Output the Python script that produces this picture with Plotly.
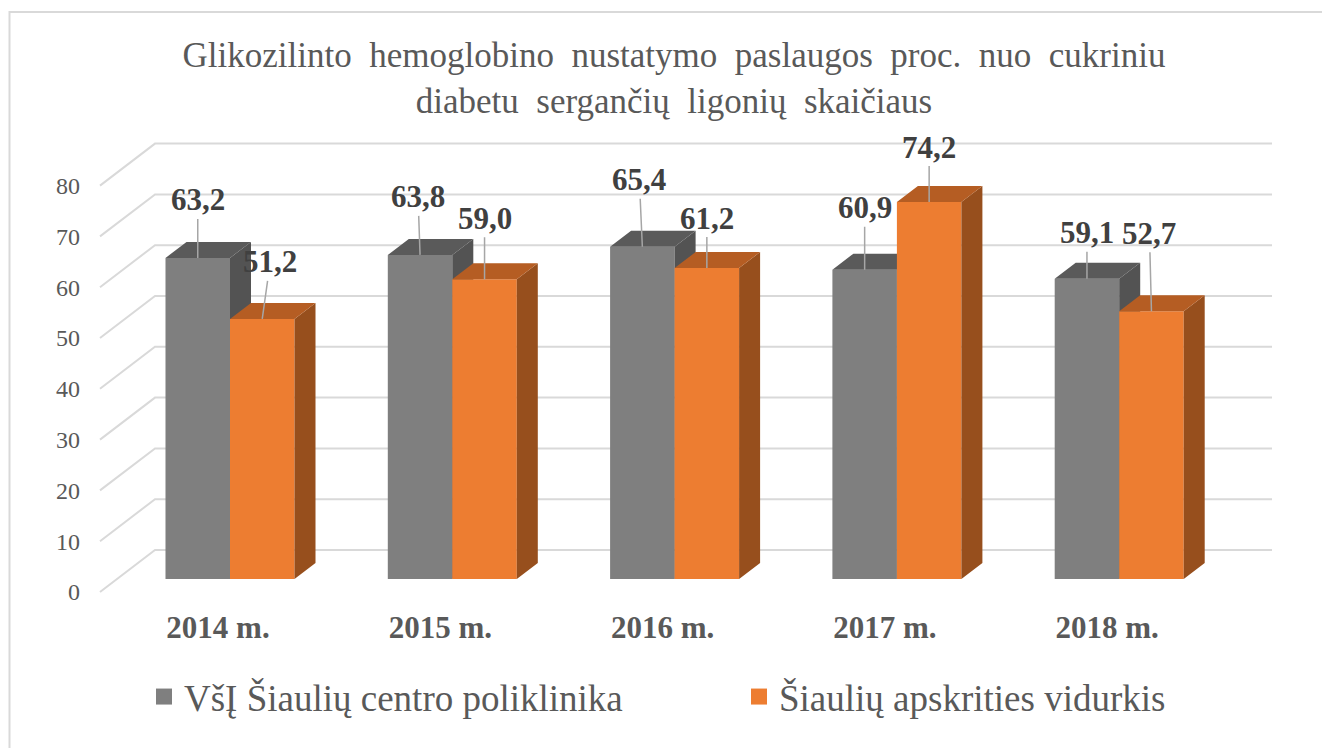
import plotly.graph_objects as go

# ---------------- data ----------------
categories = ["2014 m.", "2015 m.", "2016 m.", "2017 m.", "2018 m."]
clinic = [63.2, 63.8, 65.4, 60.9, 59.1]
county = [51.2, 59.0, 61.2, 74.2, 52.7]
series_names = ["VšĮ Šiaulių centro poliklinika", "Šiaulių apskrities vidurkis"]
y_ticks = [0, 10, 20, 30, 40, 50, 60, 70, 80]
title_text = ("Glikozilinto  hemoglobino  nustatymo  paslaugos  proc.  nuo  cukriniu"
              "<br>diabetu  sergančių  ligonių  skaičiaus")

# ---------------- styling / geometry (screen pixels) ----------------
PAGE_OFF = 8                 # default body margin of the page
W, H = 1330 - PAGE_OFF, 748 - PAGE_OFF
CAT_PX = 222.3               # pixels per category
FIRST_CAT_PX = 230           # screen x of first category centre (front plane)
UNIT_PX = 5.08               # pixels per value unit
ZERO_PX = 579                # screen y of value 0 on bar front plane
PLOT_L, PLOT_R, PLOT_T, PLOT_B = 84, 1286, 120, 606   # screen px
BAR_W_PX = 64.5
DEPTH_DX, DEPTH_DY = 21, 16
FLOOR_FRONT_DX, FLOOR_FRONT_DY = -17, 13
CAT_LABEL_DX = -12
WALL_BACK_DX, WALL_BACK_DY = 38, -29
WALL_LEFT_FRONT_PX = 100
WALL_RIGHT_PX = 1272

gray_cols = dict(front="#7f7f7f", top="#5a5a5a", side="#535353")
orange_cols = dict(front="#ed7d31", top="#b55d23", side="#974f1d")
text_col = "#595959"
label_col = "#404040"
grid_col = "#d9d9d9"
FONT = "Liberation Serif"

label_offsets = [
    [(0, 58), (8, 57)],
    [(-2, 58), (0, 61)],
    [(-3, 67), (0, 50)],
    [(0, 62), (0, 55)],
    [(0, 46), (-2, 78)],
]
legend_x_px = [144, 739]
legend_y_px = 697
title_center_px = 67

# ---------------- derived conversions ----------------
cx = lambda px: px / CAT_PX
cy = lambda px: px / UNIT_PX
px2paper_x = lambda px: (px - PLOT_L) / (PLOT_R - PLOT_L)
px2paper_y = lambda py: (PLOT_B - py) / (PLOT_B - PLOT_T)
xrange = [cx(PLOT_L - FIRST_CAT_PX), cx(PLOT_R - FIRST_CAT_PX)]
yrange = [cy(ZERO_PX - PLOT_B), cy(ZERO_PX - PLOT_T)]
bw = cx(BAR_W_PX)
ddx, ddy = cx(DEPTH_DX), cy(DEPTH_DY)
n = len(categories)
xpos = list(range(n))

fig = go.Figure()

# ---------- back wall + left wall grid lines ----------
x_front_left = cx(WALL_LEFT_FRONT_PX - FIRST_CAT_PX)
x_back_left = x_front_left + cx(WALL_BACK_DX - FLOOR_FRONT_DX)
x_back_right = cx(WALL_RIGHT_PX - FIRST_CAT_PX)
gx, gy = [], []
for v in y_ticks:
    yf = v - cy(FLOOR_FRONT_DY)
    yb = v - cy(WALL_BACK_DY)
    gx += [x_front_left, x_back_left, x_back_right, None]
    gy += [yf, yb, yb, None]
fig.add_trace(go.Scatter(x=gx, y=gy, mode="lines", line=dict(color=grid_col, width=2),
                         hoverinfo="skip", showlegend=False, xaxis="x", yaxis="y"))

for k, (name, col) in enumerate(zip(series_names, [gray_cols["front"], orange_cols["front"]])):
    fig.add_trace(go.Scatter(x=[None], y=[None], mode="markers", name=name,
                             marker=dict(symbol="square", size=18, color=col),
                             legend="legend" if k == 0 else "legend2",
                             xaxis="x", yaxis="y"))


def faces(values, offset):
    tx, ty, sx, sy = [], [], [], []
    for i, v in zip(xpos, values):
        x0 = i + offset
        x1 = x0 + bw
        tx += [x0, x1, x1 + ddx, x0 + ddx, x0, None]
        ty += [v, v, v + ddy, v + ddy, v, None]
        sx += [x1, x1, x1 + ddx, x1 + ddx, x1, None]
        sy += [0, v, v + ddy, ddy, 0, None]
    return tx, ty, sx, sy


for k, (vals, cols, offset, ax_suffix) in enumerate([
        (clinic, gray_cols, -bw, "2"), (county, orange_cols, 0.0, "3")]):
    xa, ya = "x" + ax_suffix, "y" + ax_suffix
    fig.add_trace(go.Bar(x=xpos, y=vals, width=bw, offset=offset,
                         marker=dict(color=cols["front"], line=dict(width=0)),
                         name=series_names[k], showlegend=False,
                         xaxis=xa, yaxis=ya))
    tx, ty, sx, sy = faces(vals, offset)
    fig.add_trace(go.Scatter(x=sx, y=sy, mode="lines", fill="toself",
                             fillcolor=cols["side"], line=dict(width=0, color=cols["side"]),
                             hoverinfo="skip", showlegend=False, xaxis=xa, yaxis=ya))
    fig.add_trace(go.Scatter(x=tx, y=ty, mode="lines", fill="toself",
                             fillcolor=cols["top"], line=dict(width=0, color=cols["top"]),
                             hoverinfo="skip", showlegend=False, xaxis=xa, yaxis=ya))

# ---------- data labels ----------
annotations = []
for s, (vals, offset) in enumerate([(clinic, -bw), (county, 0.0)]):
    for i, v in enumerate(vals):
        dx, dy = label_offsets[i][s]
        annotations.append(dict(
            x=i + offset + bw / 2, y=v, xref="x", yref="y",
            text="<b>" + f"{v:.1f}".replace(".", ",") + "</b>",
            showarrow=True, arrowhead=0, arrowwidth=1.5, arrowcolor="#a6a6a6",
            ax=dx, ay=-dy, standoff=0,
            font=dict(family=FONT, size=31, color=label_col)))

legend_common = dict(orientation="h", xanchor="left", yanchor="middle",
                     font=dict(family=FONT, size=37, color=text_col),
                     bgcolor="rgba(0,0,0,0)")

axis_common = dict(showgrid=False, zeroline=False, showline=False, fixedrange=True)
fig.update_layout(
    width=W, height=H,
    font=dict(family=FONT, color=text_col),
    margin=dict(l=PLOT_L - PAGE_OFF, r=W + PAGE_OFF - PLOT_R, t=PLOT_T - PAGE_OFF,
                b=H + PAGE_OFF - PLOT_B, pad=0, autoexpand=False),
    paper_bgcolor="white", plot_bgcolor="rgba(0,0,0,0)",
    title=dict(text=title_text, x=(674 - PAGE_OFF) / W, xanchor="center", xref="container",
               y=1 - (title_center_px - PAGE_OFF) / H, yanchor="middle", yref="container",
               font=dict(family=FONT, size=35, color=text_col)),
    xaxis=dict(range=xrange, tickvals=[i + cx(CAT_LABEL_DX) for i in xpos],
               ticktext=["<b>" + c + "</b>" for c in categories], ticks="", automargin=False,
               tickfont=dict(family=FONT, size=31, color=text_col),
               **axis_common),
    yaxis=dict(range=yrange, tickvals=[v - cy(FLOOR_FRONT_DY) for v in y_ticks],
               ticktext=[str(v) for v in y_ticks], ticks="", automargin=False,
               ticklabelstandoff=3,
               tickfont=dict(family=FONT, size=24, color=text_col), **axis_common),
    xaxis2=dict(range=xrange, overlaying="x", visible=False, **axis_common),
    yaxis2=dict(range=yrange, overlaying="y", visible=False, **axis_common),
    xaxis3=dict(range=xrange, overlaying="x", visible=False, **axis_common),
    yaxis3=dict(range=yrange, overlaying="y", visible=False, **axis_common),
    showlegend=True,
    legend=dict(x=px2paper_x(legend_x_px[0]), y=px2paper_y(legend_y_px), **legend_common),
    legend2=dict(x=px2paper_x(legend_x_px[1]), y=px2paper_y(legend_y_px), **legend_common),
    annotations=annotations,
    shapes=[dict(type="rect", xref="paper", yref="paper",
                 x0=px2paper_x(9.5), x1=px2paper_x(1345),
                 y0=px2paper_y(770), y1=px2paper_y(12),
                 line=dict(color=grid_col, width=2), layer="below")],
    barmode="overlay",
)

fig.write_html("out.html")
